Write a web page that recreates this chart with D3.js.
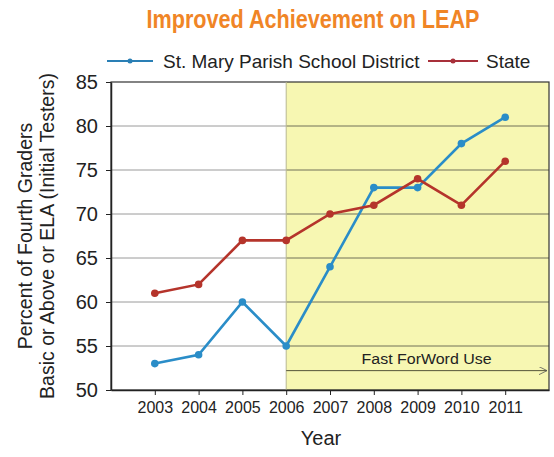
<!DOCTYPE html>
<html>
<head>
<meta charset="utf-8">
<script src="https://cdn.jsdelivr.net/npm/d3@7"></script>
<style>
    body { margin: 0; background: #fff; }
    svg { display: block; font-family: 'Liberation Sans', Arial, sans-serif; }
</style>
</head>
<body>
<div id="chart"></div>
<script>
const years = [2003, 2004, 2005, 2006, 2007, 2008, 2009, 2010, 2011];
const stMary = [53, 54, 60, 55, 64, 73, 73, 78, 81];
const state = [61, 62, 67, 67, 70, 71, 74, 71, 76];
const yTicks = [50, 55, 60, 65, 70, 75, 80, 85];
const seriesNames = ['St. Mary Parish School District', 'State'];
const programStart = 2006;

const width = 554;
const height = 457;
const margin = { top: 82, right: 5, bottom: 67, left: 111 };

const svg = d3
    .select('#chart')
    .append('svg')
    .attr('width', width)
    .attr('height', height);

const x = d3
    .scaleLinear()
    .domain([2002, 2012])
    .range([margin.left, width - margin.right]);

const y = d3
    .scaleLinear()
    .domain([50, 85])
    .range([height - margin.bottom, margin.top]);

// shaded Fast ForWord period
svg.append('rect')
    .attr('x', x(programStart))
    .attr('y', y(85))
    .attr('width', x(2012) - x(programStart))
    .attr('height', y(50) - y(85))
    .attr('fill', '#f7f7b2');

// gridlines: lighter before the program, darker inside the shaded part
const grid = svg.append('g');
grid.selectAll('line.pre')
    .data(yTicks.slice(1, -1))
    .enter()
    .append('line')
    .attr('class', 'pre')
    .attr('x1', x(2002))
    .attr('x2', x(programStart))
    .attr('y1', (d) => y(d))
    .attr('y2', (d) => y(d))
    .attr('stroke', '#9a9a9a')
    .attr('stroke-width', 1);
grid.selectAll('line.post')
    .data(yTicks.slice(1, -1))
    .enter()
    .append('line')
    .attr('class', 'post')
    .attr('x1', x(programStart))
    .attr('x2', x(2012))
    .attr('y1', (d) => y(d))
    .attr('y2', (d) => y(d))
    .attr('stroke', '#707058')
    .attr('stroke-width', 1);

// frame
svg.append('rect')
    .attr('x', x(2002))
    .attr('y', y(85))
    .attr('width', x(2012) - x(2002))
    .attr('height', y(50) - y(85))
    .attr('fill', 'none')
    .attr('stroke', '#333')
    .attr('stroke-width', 1.2);

svg.append('line')
    .attr('x1', x(programStart))
    .attr('x2', x(programStart))
    .attr('y1', y(85))
    .attr('y2', y(50))
    .attr('stroke', '#b8b890')
    .attr('stroke-width', 1);

// axes
const xAxis = d3
    .axisBottom(x)
    .tickValues(years)
    .tickFormat(d3.format('d'))
    .tickSize(5)
    .tickSizeOuter(0);
const gx = svg.append('g')
    .attr('transform', 'translate(0,' + y(50) + ')')
    .call(xAxis);
gx.select('.domain').attr('stroke', '#222').attr('stroke-width', 1.5);
gx.selectAll('.tick line').attr('stroke', '#222');
gx.selectAll('text')
    .attr('font-size', 16)
    .attr('fill', '#222')
    .attr('dy', '0.95em');

const yAxis = d3.axisLeft(y).tickValues(yTicks).tickSize(5).tickSizeOuter(0);
const gy = svg.append('g')
    .attr('transform', 'translate(' + x(2002) + ',0)')
    .call(yAxis);
gy.select('.domain').attr('stroke', '#222').attr('stroke-width', 1.5);
gy.selectAll('.tick line').attr('stroke', '#222');
gy.selectAll('text')
    .attr('font-size', 20)
    .attr('fill', '#222')
    .attr('x', -13);

// arrow for program use
svg.append('defs')
    .append('marker')
    .attr('id', 'arrow')
    .attr('viewBox', '0 0 10 10')
    .attr('refX', 10)
    .attr('refY', 5)
    .attr('markerWidth', 14)
    .attr('markerHeight', 8)
    .attr('orient', 'auto')
    .attr('markerUnits', 'userSpaceOnUse')
    .append('path')
    .attr('d', 'M0,0 L10,5 L0,10')
    .attr('fill', 'none')
    .attr('stroke', '#555')
    .attr('stroke-width', 1);

svg.append('line')
    .attr('x1', x(programStart))
    .attr('x2', x(2012) - 2)
    .attr('y1', y(52.2))
    .attr('y2', y(52.2))
    .attr('stroke', '#55553a')
    .attr('stroke-width', 1)
    .attr('marker-end', 'url(#arrow)');

svg.append('text')
    .attr('x', (x(programStart) + x(2012)) / 2 + 9)
    .attr('y', y(52.2) - 7)
    .attr('text-anchor', 'middle')
    .attr('font-size', 15.5)
    .attr('fill', '#222')
    .attr('textLength', 130)
    .attr('lengthAdjust', 'spacingAndGlyphs')
    .text('Fast ForWord Use');

// lines
const line = d3
    .line()
    .x((d) => x(d[0]))
    .y((d) => y(d[1]));

const series = [
    { name: seriesNames[0], values: d3.zip(years, stMary), color: '#2a8dc8' },
    { name: seriesNames[1], values: d3.zip(years, state), color: '#b5342b' }
];

series.forEach((s) => {
    svg.append('path')
        .datum(s.values)
        .attr('d', line)
        .attr('fill', 'none')
        .attr('stroke', s.color)
        .attr('stroke-width', 2.6);
    svg.append('g')
        .selectAll('circle')
        .data(s.values)
        .enter()
        .append('circle')
        .attr('cx', (d) => x(d[0]))
        .attr('cy', (d) => y(d[1]))
        .attr('r', 3.8)
        .attr('fill', s.color);
});

// title
svg.append('text')
    .attr('x', 313)
    .attr('y', 28)
    .attr('text-anchor', 'middle')
    .attr('font-size', 25)
    .attr('font-weight', 'bold')
    .attr('fill', '#f08526')
    .attr('textLength', 333)
    .attr('lengthAdjust', 'spacingAndGlyphs')
    .text('Improved Achievement on LEAP');

// legend
const legendItems = [
    { x1: 107, x2: 153, tx: 163, s: series[0], color: '#2a7fb5' },
    { x1: 428, x2: 478, tx: 486, s: series[1], color: '#a8303a' }
];
legendItems.forEach((l) => {
    svg.append('line')
        .attr('x1', l.x1)
        .attr('x2', l.x2)
        .attr('y1', 61)
        .attr('y2', 61)
        .attr('stroke', l.color)
        .attr('stroke-width', 2.2);
    svg.append('circle')
        .attr('cx', (l.x1 + l.x2) / 2)
        .attr('cy', 61)
        .attr('r', 2.5)
        .attr('fill', l.color);
    svg.append('text')
        .attr('x', l.tx)
        .attr('y', 68)
        .attr('font-size', 19)
        .attr('fill', '#222')
        .text(l.s.name);
});

// axis titles
const yTitle = svg.append('text')
    .attr('transform', 'translate(32,236) rotate(-90)')
    .attr('text-anchor', 'middle')
    .attr('font-size', 19.5)
    .attr('fill', '#222');
yTitle.append('tspan').attr('x', 0).attr('dy', 0).text('Percent of Fourth Graders');
yTitle.append('tspan').attr('x', 0).attr('dy', 22).text('Basic or Above or ELA (Initial Testers)');

svg.append('text')
    .attr('x', 321)
    .attr('y', 445)
    .attr('text-anchor', 'middle')
    .attr('font-size', 20)
    .attr('fill', '#222')
    .text('Year');
</script>
</body>
</html>
